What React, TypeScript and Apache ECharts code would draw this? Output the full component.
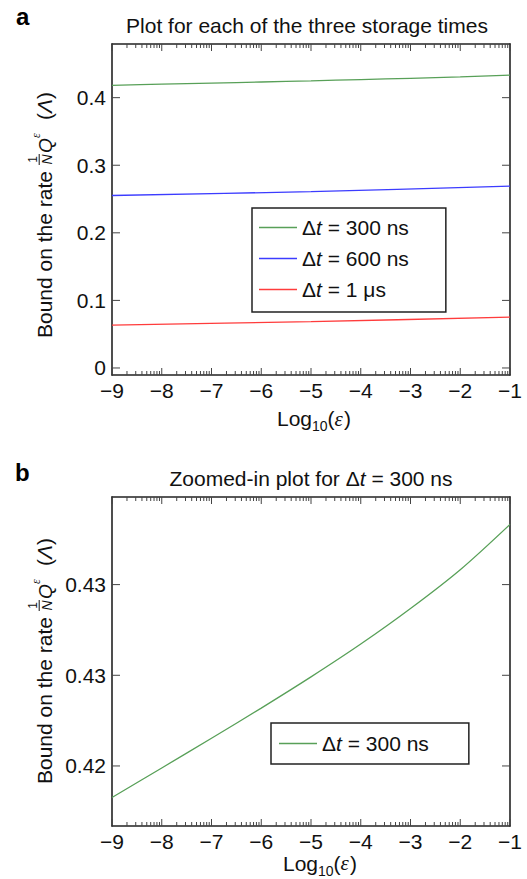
import React, { useEffect, useRef } from 'react';
import * as echarts from 'echarts';

// ---------- data ----------
const xValues = [-9, -8, -7, -6, -5, -4, -3, -2, -1];
const green300 = [0.41826, 0.41989, 0.42153, 0.42319, 0.42491, 0.42672, 0.42868, 0.43082, 0.43332];
const xSparse = [-9, -5, -1];
const blue600 = [0.2552, 0.261, 0.269];
const red1us = [0.0635, 0.0685, 0.0753];
const seriesNames = ['Δt = 300 ns', 'Δt = 600 ns', 'Δt = 1 μs'];
const xMajorTicks = [-9, -8, -7, -6, -5, -4, -3, -2, -1];
const yTicksA = [0, 0.1, 0.2, 0.3, 0.4];
const yTickLabelsA = ['0', '0.1', '0.2', '0.3', '0.4'];
const yTicksB = [0.42, 0.425, 0.43];
const yTickLabelsB = ['0.42', '0.43', '0.43'];
const titleA = 'Plot for each of the three storage times';
const titleBPrefix = 'Zoomed-in plot for Δ';
const titleBSuffix = ' = 300 ns';

const FONT = '"Liberation Sans", Arial, Helvetica, sans-serif';
const SERIF = '"Liberation Serif", "DejaVu Serif", serif';
const INK = '#111';
const FRAME = '#222';
const TICK = '#444';
const COLORS = ['#58a058', '#3c3cff', '#ff3c3c'];

// minor log ticks inside each decade of log10(eps)
const minorTicks: number[] = [];
for (let d = -9; d < -1; d++) {
  for (let k = 2; k <= 9; k++) minorTicks.push(d + Math.log10(k));
}

const measureCtx = typeof document !== 'undefined' ? document.createElement('canvas').getContext('2d') : null;
function textWidth(t: string, size: number, italic = false, family = FONT) {
  if (!measureCtx) return t.length * size * 0.55;
  measureCtx.font = `${italic ? 'italic ' : ''}${size}px ${family}`;
  return measureCtx.measureText(t).width;
}

function lookupLabel(ticks: number[], labels: string[]) {
  return (v: number) => {
    const i = ticks.findIndex((t) => Math.abs(t - v) < 1e-9);
    return i >= 0 ? labels[i] : '';
  };
}

const frameLine = { show: true, onZero: false, lineStyle: { color: FRAME, width: 1.6 } };

function xAxes(gridIndex: number) {
  const base = { gridIndex, type: 'value', min: -9, max: -1, splitLine: { show: false }, axisTick: { show: false } };
  return [
    {
      ...base,
      position: 'bottom',
      axisLine: frameLine,
      axisLabel: {
        show: true,
        customValues: xMajorTicks,
        formatter: (v: number) => (v < 0 ? '\u2212' + Math.abs(v) : String(v)),
        fontSize: 21,
        fontFamily: FONT,
        color: INK,
        margin: 5,
      },
    },
    { ...base, position: 'top', axisLine: frameLine, axisLabel: { show: false } },
  ];
}

function yAxes(gridIndex: number, min: number, max: number, ticks: number[], labels: string[]) {
  const base = { gridIndex, type: 'value', min, max, splitLine: { show: false }, axisTick: { show: false }, axisLine: frameLine };
  return [
    {
      ...base,
      position: 'left',
      axisLabel: {
        show: true,
        customValues: ticks,
        formatter: lookupLabel(ticks, labels),
        fontSize: 21,
        fontFamily: FONT,
        color: INK,
        margin: 6,
      },
    },
    { ...base, position: 'right', axisLabel: { show: false } },
  ];
}

// tick marks drawn through the cartesian coordinate system (inside, on both sides)
function xTickSeries(xAxisIndex: number, yAxisIndex: number) {
  const data = [...xMajorTicks.map((v) => [v, 1]), ...minorTicks.map((v) => [v, 0])];
  return {
    type: 'custom',
    xAxisIndex,
    yAxisIndex,
    silent: true,
    z: 5,
    data,
    renderItem: (params: any, api: any) => {
      const v = api.value(0);
      const len = api.value(1) === 1 ? 7 : 4;
      const cs = params.coordSys;
      const px = api.coord([v, 0])[0];
      const yb = cs.y + cs.height;
      const yt = cs.y;
      const st = { stroke: TICK, lineWidth: 1 };
      return {
        type: 'group',
        children: [
          { type: 'line', shape: { x1: px, y1: yb, x2: px, y2: yb - len }, style: st },
          { type: 'line', shape: { x1: px, y1: yt, x2: px, y2: yt + len }, style: st },
        ],
      };
    },
  };
}

function yTickSeries(xAxisIndex: number, yAxisIndex: number, ticks: number[]) {
  return {
    type: 'custom',
    xAxisIndex,
    yAxisIndex,
    silent: true,
    z: 5,
    data: ticks.map((v) => [-9, v]),
    renderItem: (params: any, api: any) => {
      const cs = params.coordSys;
      const py = api.coord([api.value(0), api.value(1)])[1];
      const st = { stroke: TICK, lineWidth: 1 };
      const len = 8;
      return {
        type: 'group',
        children: [
          { type: 'line', shape: { x1: cs.x, y1: py, x2: cs.x + len, y2: py }, style: st },
          { type: 'line', shape: { x1: cs.x + cs.width, y1: py, x2: cs.x + cs.width - len, y2: py }, style: st },
        ],
      };
    },
  };
}

function yLabelGroup(x0: number, y0: number) {
  const fs = 21;
  return {
    type: 'group',
    x: x0,
    y: y0,
    rotation: Math.PI / 2,
    silent: true,
    children: [
      { type: 'text', x: 0, y: -0.35 * fs, style: { text: 'Bound on the rate', fontSize: fs, fontFamily: FONT, fill: INK, align: 'left', verticalAlign: 'middle' } },
      { type: 'text', x: 178.5, y: -15 - 0.35 * 12, style: { text: '1', fontSize: 12, fontFamily: FONT, fill: INK, align: 'center', verticalAlign: 'middle' } },
      { type: 'line', shape: { x1: 173, y1: -12.8, x2: 184, y2: -12.8 }, style: { stroke: INK, lineWidth: 1 } },
      { type: 'text', x: 178.5, y: -0.35 * 14, style: { text: 'N', fontSize: 14, fontStyle: 'italic', fontFamily: FONT, fill: INK, align: 'center', verticalAlign: 'middle' } },
      { type: 'text', x: 185, y: -0.35 * 19, style: { text: 'Q', fontSize: 19, fontStyle: 'italic', fontFamily: FONT, fill: INK, align: 'left', verticalAlign: 'middle' } },
      { type: 'text', x: 200, y: -12 - 0.35 * 12, style: { text: 'ε', fontSize: 12, fontStyle: 'italic', fontFamily: SERIF, fill: INK, align: 'left', verticalAlign: 'middle' } },
      {
        type: 'text',
        x: 218,
        y: -0.35 * fs,
        style: {
          text: '{n|(}{i|Λ}{n|)}',
          align: 'left',
          verticalAlign: 'middle',
          fill: INK,
          rich: {
            n: { fontSize: fs, fontFamily: FONT, fill: INK },
            i: { fontSize: fs, fontFamily: FONT, fontStyle: 'italic', fill: INK },
          },
        },
      },
    ],
  };
}

function xNameGroup(x0: number, baseline: number) {
  const fs = 21;
  const sub = 14;
  const wLog = textWidth('Log', fs);
  const wSub = textWidth('10', sub);
  const wPar = textWidth('(', fs);
  const wEps = textWidth('ε', fs, true, SERIF);
  const mid = baseline - 0.35 * fs;
  return {
    type: 'group',
    x: x0,
    y: 0,
    silent: true,
    children: [
      { type: 'text', x: 0, y: mid, style: { text: 'Log', fontSize: fs, fontFamily: FONT, fill: INK, align: 'left', verticalAlign: 'middle' } },
      { type: 'text', x: wLog, y: baseline + 5 - 0.35 * sub, style: { text: '10', fontSize: sub, fontFamily: FONT, fill: INK, align: 'left', verticalAlign: 'middle' } },
      { type: 'text', x: wLog + wSub, y: mid, style: { text: '(', fontSize: fs, fontFamily: FONT, fill: INK, align: 'left', verticalAlign: 'middle' } },
      { type: 'text', x: wLog + wSub + wPar, y: mid, style: { text: 'ε', fontSize: fs, fontStyle: 'italic', fontFamily: SERIF, fill: INK, align: 'left', verticalAlign: 'middle' } },
      { type: 'text', x: wLog + wSub + wPar + wEps + 1, y: mid, style: { text: ')', fontSize: fs, fontFamily: FONT, fill: INK, align: 'left', verticalAlign: 'middle' } },
    ],
  };
}

const legendFormatter = (name: string) => '{d|Δ}{t|t}{d|' + name.slice(2) + '}';
const legendRich = {
  d: { fontSize: 21, fontFamily: FONT, color: INK },
  t: { fontSize: 21, fontFamily: FONT, fontStyle: 'italic', color: INK },
};

function lineSeries(name: string, xs: number[], ys: number[], color: string, xAxisIndex: number, yAxisIndex: number) {
  return {
    name,
    type: 'line',
    xAxisIndex,
    yAxisIndex,
    data: xs.map((x, i) => [x, ys[i]]),
    symbol: 'none',
    showSymbol: false,
    smooth: 0.3,
    lineStyle: { color, width: 1.3 },
    itemStyle: { color },
    z: 3,
  };
}

export default function App() {
  const ref = useRef<HTMLDivElement>(null);
  useEffect(() => {
    if (!ref.current) return;
    const chart = echarts.init(ref.current, undefined, { renderer: 'svg' });
    const legendCommon = {
      orient: 'vertical',
      icon: 'rect',
      itemWidth: 38,
      itemHeight: 1.5,
      itemTextGap: 8,
      borderColor: FRAME,
      borderWidth: 1.5,
      selectedMode: false,
      formatter: legendFormatter,
      textStyle: { fontSize: 21, fontFamily: FONT, color: INK, lineHeight: 21, rich: legendRich },
    };
    const option: any = {
      animation: false,
      backgroundColor: '#fff',
      grid: [
        { left: 112, top: 44, width: 398, height: 331, outerBoundsMode: 'none', containLabel: false },
        { left: 112, top: 497, width: 398, height: 329, outerBoundsMode: 'none', containLabel: false },
      ],
      xAxis: [...xAxes(0), ...xAxes(1)],
      yAxis: [
        ...yAxes(0, -0.0104, 0.4794, yTicksA, yTickLabelsA),
        ...yAxes(1, 0.41669, 0.43483, yTicksB, yTickLabelsB),
      ],
      legend: [
        { ...legendCommon, data: seriesNames, left: 252, top: 208, padding: [9, 37, 12, 7], itemGap: 10 },
        { ...legendCommon, data: [seriesNames[0]], left: 271, top: 723, padding: [10, 40, 10, 8] },
      ],
      series: [
        lineSeries(seriesNames[0], xValues, green300, COLORS[0], 0, 0),
        lineSeries(seriesNames[1], xSparse, blue600, COLORS[1], 0, 0),
        lineSeries(seriesNames[2], xSparse, red1us, COLORS[2], 0, 0),
        lineSeries(seriesNames[0], xValues, green300, COLORS[0], 2, 2),
        xTickSeries(0, 0),
        yTickSeries(0, 0, yTicksA),
        xTickSeries(2, 2),
        yTickSeries(2, 2, yTicksB),
      ],
      graphic: [
        { type: 'text', x: 16, y: 25 - 0.35 * 24, silent: true, style: { text: 'a', fontSize: 24, fontWeight: 'bold', fontFamily: FONT, fill: '#000', align: 'left', verticalAlign: 'middle' } },
        { type: 'text', x: 15, y: 481 - 0.35 * 24, silent: true, style: { text: 'b', fontSize: 24, fontWeight: 'bold', fontFamily: FONT, fill: '#000', align: 'left', verticalAlign: 'middle' } },
        { type: 'text', x: 307, y: 33 - 0.35 * 21, silent: true, style: { text: titleA, fontSize: 21, fontFamily: FONT, fill: INK, align: 'center', verticalAlign: 'middle' } },
        {
          type: 'text',
          x: 311,
          y: 486 - 0.35 * 21,
          silent: true,
          style: {
            text: '{n|' + titleBPrefix + '}{i|t}{n|' + titleBSuffix + '}',
            align: 'center',
            verticalAlign: 'middle',
            fill: INK,
            rich: {
              n: { fontSize: 21, fontFamily: FONT, fill: INK },
              i: { fontSize: 21, fontFamily: FONT, fontStyle: 'italic', fill: INK },
            },
          },
        },
        yLabelGroup(52, 338),
        yLabelGroup(52, 784),
        xNameGroup(277, 426),
        xNameGroup(283, 870.5),
      ],
    };
    chart.setOption(option);
    return () => chart.dispose();
  }, []);
  return <div ref={ref} style={{ position: 'fixed', left: 0, top: 0, width: 527, height: 879, background: '#fff' }} />;
}
